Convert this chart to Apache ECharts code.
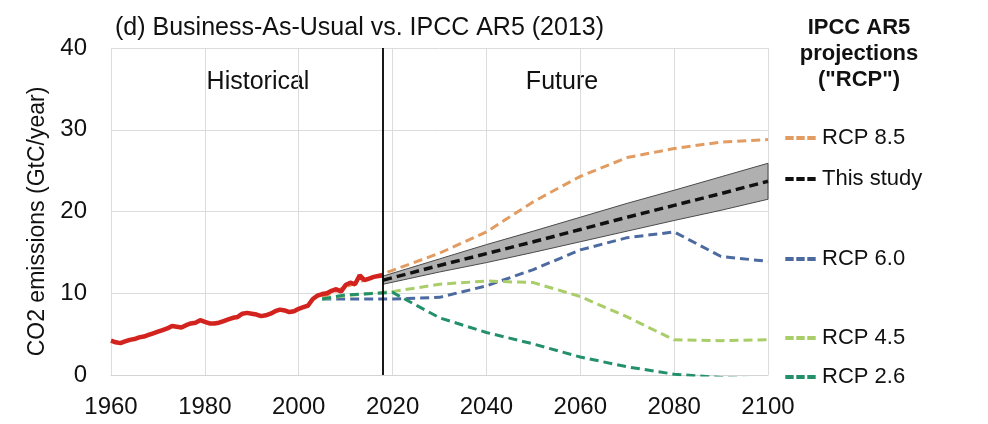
<!DOCTYPE html>
<html>
<head>
<meta charset="utf-8">
<script src="https://cdn.jsdelivr.net/npm/echarts@6/dist/echarts.min.js"></script>
<style>
  html, body { margin: 0; padding: 0; background: #fff; }
  #chart { width: 988px; height: 424px; }
</style>
</head>
<body>
<div id="chart"></div>
<script>
// historical emissions, one value per year from 1960
const histStart = 1960;
const histValues = [
  4.2, 4.0, 3.9, 4.1, 4.3, 4.4, 4.6, 4.7, 4.9, 5.1,
  5.3, 5.5, 5.7, 6.0, 5.9, 5.8, 6.1, 6.3, 6.4, 6.7,
  6.5, 6.3, 6.3, 6.4, 6.6, 6.8, 7.0, 7.1, 7.5, 7.6,
  7.5, 7.4, 7.2, 7.3, 7.5, 7.8, 8.0, 7.9, 7.7, 7.8,
  8.1, 8.3, 8.5, 9.3, 9.7, 9.9, 10.0, 10.3, 10.5, 10.2,
  11.0, 11.3, 11.1, 12.2, 11.6, 11.8, 12.0, 12.1, 12.2
];

const rcpYears = [2005, 2010, 2020, 2030, 2040, 2050, 2060, 2070, 2080, 2090, 2100];
const rcp85 = [9.5, 10.8, 12.8, 14.9, 17.5, 21.2, 24.3, 26.6, 27.7, 28.5, 28.8];
const rcp60 = [9.3, 9.3, 9.3, 9.5, 10.9, 12.9, 15.3, 16.8, 17.5, 14.5, 13.9];
const rcp45 = [9.3, 9.7, 10.2, 11.1, 11.5, 11.3, 9.6, 7.1, 4.3, 4.2, 4.3];
const rcp26 = [9.3, 9.8, 10.1, 7.0, 5.2, 3.8, 2.2, 1.0, 0.1, -0.3, -0.5];

const studyYears = [2018, 2030, 2040, 2050, 2060, 2070, 2080, 2090, 2100];
const studyMid = [11.6, 13.4, 14.85, 16.3, 17.8, 19.3, 20.75, 22.2, 23.7];
const studyLow = [11.1, 12.6, 13.75, 15.0, 16.3, 17.6, 18.9, 20.15, 21.5];
const studyHigh = [12.1, 14.2, 15.95, 17.6, 19.3, 21.0, 22.6, 24.25, 25.9];

const xTicks = [1960, 2100, 20];
const yTicks = [0, 40, 10];
const cutYear = 2018;

const colors = {
  hist: '#d2231e',
  rcp85: '#e29c62',
  study: '#111111',
  rcp60: '#4d6aa0',
  rcp45: '#a9cd68',
  rcp26: '#23906a',
  band: '#b0b0b0'
};

const pairs = (xs, ys) => xs.map((x, i) => [x, ys[i]]);
const histData = histValues.map((v, i) => [histStart + i, v]);

const font = 'Liberation Sans, Arial, sans-serif';

function endLabel(name, color) {
  return {
    show: true,
    distance: 16,
    offset: [0, -2],
    formatter: '{d|---}{t|' + name + '}',
    rich: {
      d: {color: color, fontSize: 33, fontWeight: 'bold', fontFamily: font, width: 38},
      t: {color: '#111', fontSize: 22, fontFamily: font}
    }
  };
}

function dashed(name, data, color, width) {
  return {
    name: name,
    type: 'line',
    data: data,
    symbol: 'none',
    lineStyle: {color: color, width: width || 3, type: [9, 5]},
    endLabel: endLabel(name, color),
    z: 3
  };
}

// uncertainty band of this study: upper edge forward, lower edge back
function renderBand(params, api) {
  const pts = [];
  studyYears.forEach((x, i) => pts.push(api.coord([x, studyHigh[i]])));
  for (let i = studyYears.length - 1; i >= 0; i--) pts.push(api.coord([studyYears[i], studyLow[i]]));
  return {
    type: 'polygon',
    shape: {points: pts},
    style: {fill: colors.band, stroke: '#4a4a4a', lineWidth: 1}
  };
}

const myChart = echarts.init(document.getElementById('chart'), null, {renderer: 'canvas'});
myChart.setOption({
  animation: false,
  textStyle: {fontFamily: font},
  grid: {left: 111, right: 220, top: 48, bottom: 49},
  xAxis: {
    type: 'value',
    min: xTicks[0],
    max: xTicks[1],
    interval: xTicks[2],
    axisLine: {show: true, lineStyle: {color: '#d4d4d4'}},
    axisTick: {show: false},
    splitLine: {show: true, lineStyle: {color: '#dcdcdc'}},
    axisLabel: {color: '#111', fontSize: 24, margin: 20, fontFamily: font, formatter: v => String(v)}
  },
  yAxis: {
    type: 'value',
    min: yTicks[0],
    max: yTicks[1],
    interval: yTicks[2],
    name: 'CO2 emissions (GtC/year)',
    nameLocation: 'middle',
    nameGap: 56,
    nameTextStyle: {color: '#111', fontSize: 23, fontFamily: font, padding: [0, 20, 0, 0]},
    axisLine: {show: false},
    axisTick: {show: false},
    splitLine: {show: true, lineStyle: {color: '#dcdcdc'}},
    axisLabel: {color: '#111', fontSize: 24, margin: 24, fontFamily: font}
  },
  graphic: [
    {type: 'text', left: 115, top: 16, style: {text: '(d) Business-As-Usual vs. IPCC AR5 (2013)', font: '25px ' + font, fill: '#111'}},
    {type: 'text', x: 258, y: 82, style: {text: 'Historical', font: '25px ' + font, fill: '#111', align: 'center', verticalAlign: 'middle'}},
    {type: 'text', x: 562, y: 82, style: {text: 'Future', font: '25px ' + font, fill: '#111', align: 'center', verticalAlign: 'middle'}},
    {type: 'text', x: 859, y: 15, style: {text: 'IPCC AR5\nprojections\n("RCP")', font: 'bold 22px ' + font, fill: '#111', align: 'center', lineHeight: 26}}
  ],
  series: [
    {
      name: 'band',
      type: 'custom',
      renderItem: renderBand,
      data: [0],
      silent: true,
      z: 1
    },
    dashed('RCP 8.5', pairs(rcpYears, rcp85), colors.rcp85),
    dashed('RCP 6.0', pairs(rcpYears, rcp60), colors.rcp60),
    dashed('RCP 4.5', pairs(rcpYears, rcp45), colors.rcp45),
    dashed('RCP 2.6', pairs(rcpYears, rcp26), colors.rcp26),
    dashed('This study', pairs(studyYears, studyMid), colors.study, 3.5),
    {
      name: 'Historical',
      type: 'line',
      data: histData,
      symbol: 'none',
      lineStyle: {color: colors.hist, width: 4.5},
      z: 4,
      markLine: {
        silent: true,
        symbol: 'none',
        label: {show: false},
        lineStyle: {color: '#000', width: 1.8, type: 'solid'},
        data: [{xAxis: cutYear}]
      }
    }
  ]
});
</script>
</body>
</html>
